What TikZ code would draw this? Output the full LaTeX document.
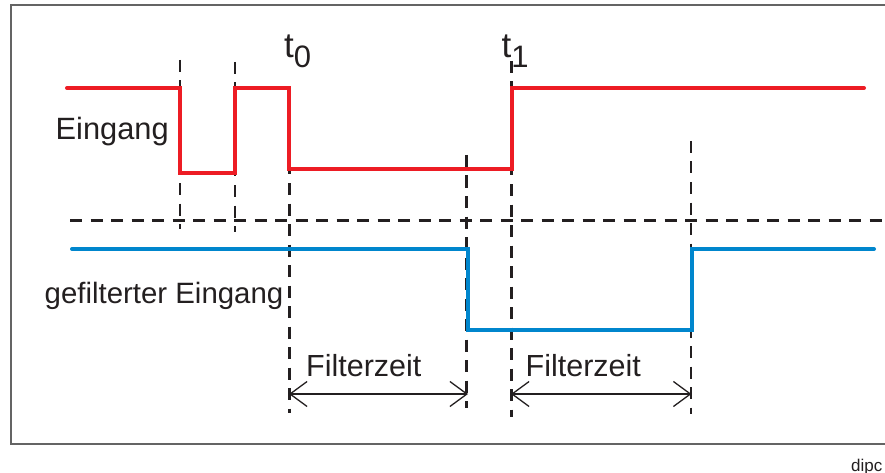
\documentclass[tikz,border=0pt]{standalone}
\usepackage{fontspec}
\setmainfont{Liberation Sans}
\usetikzlibrary{arrows.meta}
\definecolor{sigred}{RGB}{237,28,36}
\definecolor{sigblue}{RGB}{0,134,205}
\definecolor{ink}{RGB}{35,31,32}
\definecolor{framegray}{RGB}{100,100,100}
\begin{document}
\begin{tikzpicture}[x=1pt,y=-1pt,
  signal/.style={line width=4pt, line cap=round, line join=miter},
  guide/.style={ink, line width=2.5pt, dash pattern=on 12pt off 8.5pt},
  barb/.tip={Straight Barb[length=17pt,width=25pt,line width=1.3pt]},
  span/.style={ink, line width=1.3pt, barb-barb},
  label/.style={inner sep=0pt, anchor=base west, text=ink, font=\fontsize{30}{36}\selectfont},
]
\useasboundingbox (0,0) rectangle (885,473);

% frame (open to the right)
\draw[framegray, line width=1.2pt] (900,5) -- (11,5) -- (11,444) -- (900,444);

% time markers
\coordinate (m1) at (180,0);
\coordinate (m2) at (235,0);
\coordinate (m3) at (289.5,0);
\coordinate (m4) at (466.5,0);
\coordinate (m5) at (511.7,0);
\coordinate (m6) at (691,0);

% guide lines
\draw[guide] (70,220.5) -- (883,220.5);
\draw[guide] (m1 |- 0,60)  -- (m1 |- 0,229);
\draw[guide] (m2 |- 0,62)  -- (m2 |- 0,232);
\draw[guide] (m3 |- 0,142) -- (m3 |- 0,413);
\draw[guide] (m4 |- 0,155) -- (m4 |- 0,408);
\draw[guide] (m5 |- 0,61)  -- (m5 |- 0,417);
\draw[guide] (m6 |- 0,141) -- (m6 |- 0,414);

% input signal
\draw[signal, sigred] (67,88) -- (180,88) -- (180,173) -- (235,173) -- (235,88)
  -- (289,88) -- (289,169) -- (512,169) -- (512,88) -- (864,88);

% filtered input signal
\draw[signal, sigblue] (72,249) -- (468,249) -- (468,330) -- (691.5,330)
  -- (691.5,249) -- (874,249);

% filter time spans
\coordinate (a0) at (289,394);
\coordinate (b0) at (468,394);
\coordinate (a1) at (511,394);
\coordinate (b1) at (691.5,394);
\draw[span] (a0) -- (b0);
\draw[span] (a1) -- (b1);

% labels
\node[label, font=\fontsize{30.8}{36}\selectfont] (eingang) at (55.5,140) {Eingang};
\node[label, font=\fontsize{29.4}{36}\selectfont] (gefiltert) at (44.5,303) {gefilterter Eingang};
\node[label, font=\fontsize{30.5}{36}\selectfont] (fz0) at (306,376.7) {Filterzeit};
\node[label, font=\fontsize{30.5}{36}\selectfont] (fz1) at (525.5,376.7) {Filterzeit};
\node[label, font=\fontsize{35}{40}\selectfont] (t0) at (284,58)
  {t\raisebox{-9.7pt}{\fontsize{31}{36}\selectfont 0}};
\node[label, font=\fontsize{35}{40}\selectfont] (t1) at (501.5,58)
  {t\raisebox{-9.7pt}{\fontsize{31}{36}\selectfont 1}};
\node[label, font=\fontsize{17}{20}\selectfont] (tag) at (851,471) {dipc};
\end{tikzpicture}
\end{document}
